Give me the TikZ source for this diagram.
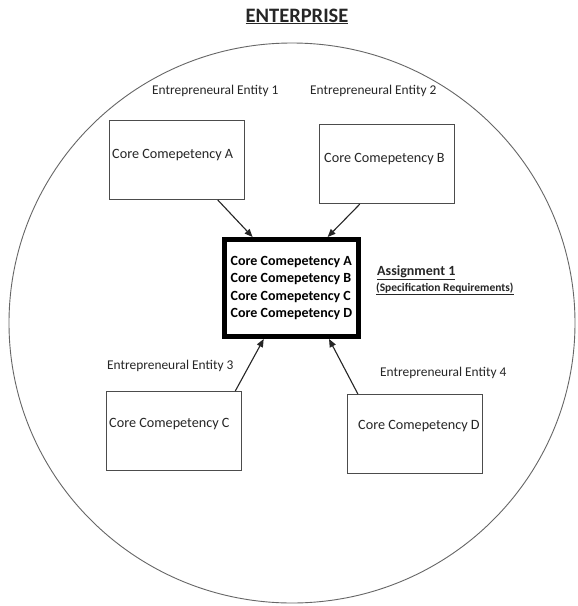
\documentclass[tikz,border=0pt]{standalone}
\usepackage{fontspec}
\setmainfont{Carlito}
\usetikzlibrary{arrows.meta,calc}
\begin{document}
\begin{tikzpicture}[x=1pt,y=-1pt,
  compbox/.style={draw=black!70,line width=1.1pt,rectangle,minimum width=135pt,minimum height=79pt,inner sep=0pt,anchor=north west},
  comptext/.style={anchor=base west,inner sep=0pt,font=\fontsize{14.2}{16}\selectfont,text=black!85},
  entity/.style={anchor=base west,inner sep=0pt,font=\fontsize{13.4}{15}\selectfont,text=black!85},
  assignbox/.style={draw=black,line width=5pt,rectangle,minimum width=134pt,minimum height=97pt,inner sep=0pt,
    align=left,font=\bfseries\fontsize{14}{17.4}\selectfont},
  feed/.style={draw=black!85,line width=1.1pt,-{Triangle[length=8pt,width=6.5pt]}}]
  \useasboundingbox (0,0) rectangle (578,606);
  \fill[white] (0,0) rectangle (578,606);

  % the enterprise boundary
  \draw[black!60,line width=0.9pt] (292,323) ellipse [x radius=283, y radius=280];
  \node[anchor=base,inner sep=0pt,font=\bfseries\fontsize{20.5}{23}\selectfont,text=black!85] (title) at (297,22) {\underline{ENTERPRISE}};

  % entrepreneurial entities and their competencies
  \node[compbox] (A) at (109,120) {};
  \node[comptext] (At) at (112,158) {Core Comepetency A};
  \node[entity] (E1) at (152,94) {Entrepreneural Entity 1};

  \node[compbox] (B) at (319,124) {};
  \node[comptext] (Bt) at (324,162) {Core Comepetency B};
  \node[entity] (E2) at (310,94) {Entrepreneural Entity 2};

  \node[compbox] (C) at (106,391) {};
  \node[comptext] (Ct) at (109,427) {Core Comepetency C};
  \node[entity] (E3) at (107,369) {Entrepreneural Entity 3};

  \node[compbox] (D) at (347,394) {};
  \node[comptext] (Dt) at (358,429) {Core Comepetency D};
  \node[entity] (E4) at (380,376) {Entrepreneural Entity 4};

  % the assignment combining all competencies
  \node[assignbox,anchor=north west] (M) at (222,237) {Core Comepetency A\\Core Comepetency B\\Core Comepetency C\\Core Comepetency D};
  \node[anchor=base west,inner sep=0pt,font=\bfseries\fontsize{14}{16}\selectfont,text=black!85] (asg) at (377,275) {\underline{Assignment 1}};
  \node[anchor=base west,inner sep=0pt,font=\bfseries\fontsize{11.5}{13}\selectfont,text=black!85] (spec) at (376,291) {\underline{(Specification Requirements)}};

  % competencies feeding the assignment
  \draw[feed] ($(A.south west)!0.80!(A.south east)$) -- ($(M.north west)!0.22!(M.north east)$);
  \draw[feed] ($(B.south west)!0.30!(B.south east)$) -- ($(M.north west)!0.76!(M.north east)$);
  \draw[feed] ($(C.north west)!0.95!(C.north east)$) -- ($(M.south west)!0.30!(M.south east)$);
  \draw[feed] ($(D.north west)!0.08!(D.north east)$) -- ($(M.south west)!0.77!(M.south east)$);
\end{tikzpicture}
\end{document}
